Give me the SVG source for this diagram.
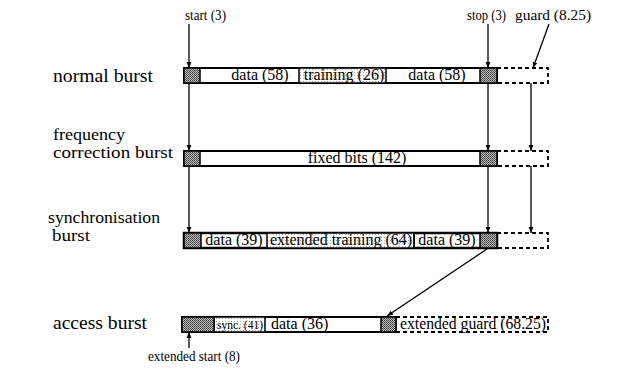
<svg xmlns="http://www.w3.org/2000/svg" width="622" height="380" viewBox="0 0 622 380">
<style>
text{font-family:"Liberation Serif","Times New Roman",serif;font-size:16px;fill:#000}
.m{text-anchor:middle}
.lb{font-size:18px}
.st{font-size:16px}
.tp{font-size:14.5px}
.bar{fill:#fff;stroke:#000;stroke-width:2}
.dk{fill:url(#dots);stroke:#000;stroke-width:1.5}
.lt{fill:url(#lite);stroke:#000;stroke-width:1.5}
.div{stroke:#000;stroke-width:1.5}
.gd{fill:#fff;stroke:#000;stroke-width:1.8;stroke-dasharray:4 3}
.ar{stroke:#000;stroke-width:1.3;fill:none;marker-end:url(#ah)}
</style>
<defs>
<pattern id="dots" width="2" height="2" patternUnits="userSpaceOnUse">
<rect width="2" height="2" fill="#c0c0c0"/><rect width="1" height="1" fill="#333"/><rect x="1" y="1" width="1" height="1" fill="#555"/>
</pattern>
<pattern id="lite" width="3" height="3" patternUnits="userSpaceOnUse">
<rect width="3" height="3" fill="#fff"/><rect width="1" height="1" fill="#aaa"/>
</pattern>
<marker id="ah" viewBox="0 0 10 10" refX="10" refY="5" markerWidth="6" markerHeight="6" orient="auto" markerUnits="userSpaceOnUse">
<path d="M0,1 L10,5 L0,9 z" fill="#000"/>
</marker>
</defs>

<g id="labels">
<text class="lb" x="53" y="82" textLength="100" lengthAdjust="spacingAndGlyphs">normal burst</text>
<text class="st" x="53" y="140" textLength="72" lengthAdjust="spacingAndGlyphs">frequency</text>
<text class="st" x="53" y="158" textLength="120" lengthAdjust="spacingAndGlyphs">correction burst</text>
<text class="st" x="48" y="223" textLength="112" lengthAdjust="spacingAndGlyphs">synchronisation</text>
<text class="st" x="52" y="241" textLength="38" lengthAdjust="spacingAndGlyphs">burst</text>
<text class="lb" x="53" y="329" textLength="94" lengthAdjust="spacingAndGlyphs">access burst</text>
<text class="tp" x="185" y="20" textLength="41" lengthAdjust="spacingAndGlyphs">start (3)</text>
<text class="tp" x="467" y="20" textLength="39" lengthAdjust="spacingAndGlyphs">stop (3)</text>
<text class="tp" x="515" y="20" textLength="76" lengthAdjust="spacingAndGlyphs">guard (8.25)</text>
<text class="tp" x="148" y="361" textLength="92" lengthAdjust="spacingAndGlyphs">extended start (8)</text>
</g>

<g id="normal-burst">
<rect class="gd" x="497" y="68" width="51" height="15"/>
<rect class="bar" x="184" y="68" width="313" height="15"/>
<rect class="lt" x="299" y="68" width="87" height="15"/>
<rect class="dk" x="184" y="68" width="16" height="15"/>
<rect class="dk" x="480" y="68" width="17" height="15"/>
<text class="m" x="260" y="80">data (58)</text>
<text class="m" x="344" y="80">training (26)</text>
<text class="m" x="437" y="80">data (58)</text>
</g>

<g id="frequency-correction-burst">
<rect class="gd" x="497" y="151" width="51" height="15"/>
<rect class="bar" x="184" y="151" width="313" height="15"/>
<rect class="dk" x="184" y="151" width="16" height="15"/>
<rect class="dk" x="480" y="151" width="17" height="15"/>
<text class="m" x="357" y="163">fixed bits (142)</text>
</g>

<g id="synchronisation-burst">
<rect class="gd" x="497" y="233" width="51" height="15"/>
<rect class="bar" x="184" y="233" width="313" height="15" style="stroke-width:2.5"/>
<rect class="lt" x="267" y="233" width="147" height="15"/>
<line class="div" x1="414" y1="233" x2="414" y2="248"/>
<rect class="dk" x="184" y="233" width="17" height="15"/>
<rect class="dk" x="480" y="233" width="17" height="15"/>
<text class="m" x="234" y="245">data (39)</text>
<text class="m" x="341" y="245">extended training (64)</text>
<text class="m" x="447" y="245">data (39)</text>
</g>

<g id="access-burst">
<rect class="gd" x="396" y="317" width="152" height="15"/>
<rect class="bar" x="182" y="317" width="214" height="15"/>
<rect class="lt" x="214" y="317" width="51" height="15"/>
<rect class="dk" x="182" y="317" width="32" height="15"/>
<rect class="dk" x="381" y="317" width="15" height="15"/>
<text x="217" y="329" style="font-size:13px" textLength="46" lengthAdjust="spacingAndGlyphs">sync. (41)</text>
<text x="271" y="329">data (36)</text>
<text x="400" y="329" textLength="146" lengthAdjust="spacingAndGlyphs">extended guard (68.25)</text>
</g>

<g id="connectors">
<line class="ar" x1="189" y1="24" x2="189" y2="68"/>
<line class="ar" x1="488" y1="24" x2="488" y2="68"/>
<line class="ar" x1="549" y1="24" x2="533" y2="68"/>
<line class="ar" x1="189" y1="83" x2="189" y2="151"/>
<line class="ar" x1="488" y1="83" x2="488" y2="151"/>
<line class="ar" x1="531" y1="83" x2="531" y2="151"/>
<line class="ar" x1="189" y1="166" x2="189" y2="233"/>
<line class="ar" x1="488" y1="166" x2="488" y2="233"/>
<line class="ar" x1="531" y1="166" x2="531" y2="233"/>
<line class="ar" x1="487" y1="249" x2="387" y2="316"/>
<line class="ar" x1="189" y1="348" x2="189" y2="332"/>
</g>
</svg>
